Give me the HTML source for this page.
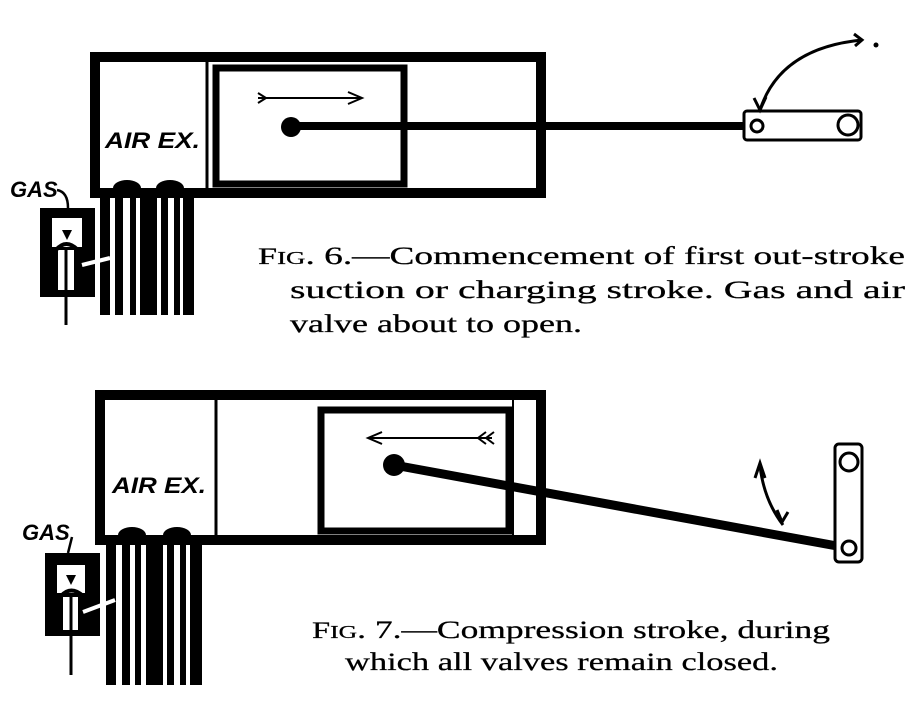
<!DOCTYPE html>
<html><head><meta charset="utf-8"><style>
html,body{margin:0;padding:0;background:#fff;width:908px;height:701px;overflow:hidden}
svg{display:block}
.cap{font-family:"Liberation Serif",serif;font-size:25px;fill:#000;stroke:#000;stroke-width:0.25}
.hand{font-family:"Liberation Sans",sans-serif;font-style:italic;font-weight:bold;font-size:22px;fill:#000}
</style></head><body>
<svg width="908" height="701" viewBox="0 0 908 701" xmlns="http://www.w3.org/2000/svg">
<!-- FIG 6 -->
<rect x="95" y="57" width="446" height="136" fill="none" stroke="#000" stroke-width="10"/>
<line x1="207" y1="57" x2="207" y2="193" stroke="#000" stroke-width="3"/>
<rect x="216" y="68" width="188" height="116" fill="none" stroke="#000" stroke-width="7"/>
<line x1="258" y1="98" x2="360" y2="98" stroke="#000" stroke-width="2"/>
<path d="M348 92 L362 98 L348 104" fill="none" stroke="#000" stroke-width="2"/>
<path d="M258 93 L266 98 L258 103" fill="none" stroke="#000" stroke-width="2"/>
<circle cx="291" cy="127" r="10" fill="#000"/>
<line x1="291" y1="126" x2="745" y2="126" stroke="#000" stroke-width="8"/>
<rect x="744" y="111" width="117" height="29" rx="3" fill="#fff" stroke="#000" stroke-width="3"/>
<circle cx="757" cy="126" r="6" fill="none" stroke="#000" stroke-width="3"/>
<circle cx="848" cy="125" r="10" fill="none" stroke="#000" stroke-width="3"/>
<path d="M760 110 Q780 48 862 40" fill="none" stroke="#000" stroke-width="3"/>
<path d="M854 34 L862 40 L855 46" fill="none" stroke="#000" stroke-width="3"/>
<circle cx="876" cy="45" r="2.5"/>
<path d="M754 98 L760 110 L766 97" fill="none" stroke="#000" stroke-width="3"/>
<text class="hand" x="105" y="148" textLength="95" lengthAdjust="spacingAndGlyphs">AIR EX.</text>
<!-- valves fig6 -->
<ellipse cx="127" cy="188" rx="14" ry="8"/>
<ellipse cx="170" cy="188" rx="14" ry="8"/>
<rect x="100" y="193" width="10" height="122"/>
<rect x="115" y="188" width="8" height="127"/>
<rect x="130" y="188" width="6" height="127"/>
<rect x="140" y="193" width="17" height="122"/>
<rect x="161" y="188" width="7" height="127"/>
<rect x="174" y="188" width="6" height="127"/>
<rect x="183" y="193" width="11" height="122"/>
<rect x="40" y="208" width="55" height="89"/>
<rect x="52" y="218" width="30" height="29" fill="#fff"/>
<rect x="58" y="250" width="16" height="40" fill="#fff"/>
<line x1="66" y1="248" x2="66" y2="325" stroke="#000" stroke-width="3"/>
<path d="M56 250 Q66 238 78 250" fill="none" stroke="#000" stroke-width="4"/>
<path d="M62 230 L67 240 L72 230 Z" fill="#000"/>
<line x1="82" y1="265" x2="110" y2="258" stroke="#fff" stroke-width="4"/>
<text class="hand" x="10" y="197" font-size="18">GAS</text>
<path d="M57 190 Q68 192 68 208" fill="none" stroke="#000" stroke-width="2.5"/>
<text class="cap" x="258" y="264" textLength="647" lengthAdjust="spacingAndGlyphs"><tspan font-size="23">F</tspan><tspan font-size="18">IG</tspan>. 6.—Commencement of first out-stroke</text>
<text class="cap" x="290" y="298" textLength="615" lengthAdjust="spacingAndGlyphs">suction or charging stroke.  Gas and air</text>
<text class="cap" x="290" y="332" textLength="292" lengthAdjust="spacingAndGlyphs">valve about to open.</text>
<!-- FIG 7 -->
<rect x="100" y="395" width="441" height="145" fill="none" stroke="#000" stroke-width="10"/>
<line x1="216" y1="395" x2="216" y2="540" stroke="#000" stroke-width="3"/>
<rect x="321" y="410" width="188" height="121" fill="none" stroke="#000" stroke-width="7"/>
<line x1="513" y1="400" x2="513" y2="535" stroke="#000" stroke-width="2"/>
<line x1="370" y1="438" x2="492" y2="438" stroke="#000" stroke-width="2"/>
<path d="M382 432 L368 438 L382 444" fill="none" stroke="#000" stroke-width="2"/>
<path d="M486 432 L478 438 L486 444 M494 432 L486 438 L494 444" fill="none" stroke="#000" stroke-width="2"/>
<circle cx="394" cy="465" r="11" fill="#000"/>
<line x1="394" y1="465" x2="848" y2="548" stroke="#000" stroke-width="9"/>
<rect x="835" y="444" width="27" height="118" rx="4" fill="#fff" stroke="#000" stroke-width="3"/>
<circle cx="849" cy="462" r="9" fill="none" stroke="#000" stroke-width="3"/>
<circle cx="849" cy="548" r="7" fill="none" stroke="#000" stroke-width="3"/>
<path d="M760 466 Q764 500 783 525" fill="none" stroke="#000" stroke-width="3"/>
<path d="M755 478 L760 463 L765 478" fill="none" stroke="#000" stroke-width="3"/>
<path d="M777 510 L782 522 L788 512" fill="none" stroke="#000" stroke-width="3"/>
<text class="hand" x="112" y="493" textLength="94" lengthAdjust="spacingAndGlyphs">AIR EX.</text>
<!-- valves fig7 -->
<ellipse cx="132" cy="535" rx="14" ry="8"/>
<ellipse cx="177" cy="535" rx="14" ry="8"/>
<rect x="106" y="540" width="10" height="145"/>
<rect x="122" y="535" width="8" height="150"/>
<rect x="135" y="535" width="6" height="150"/>
<rect x="146" y="540" width="17" height="145"/>
<rect x="167" y="535" width="7" height="150"/>
<rect x="180" y="535" width="6" height="150"/>
<rect x="190" y="540" width="12" height="145"/>
<rect x="45" y="553" width="55" height="83"/>
<rect x="57" y="565" width="28" height="28" fill="#fff"/>
<rect x="63" y="597" width="15" height="33" fill="#fff"/>
<line x1="71" y1="594" x2="71" y2="675" stroke="#000" stroke-width="3"/>
<path d="M61 596 Q71 585 83 596" fill="none" stroke="#000" stroke-width="4"/>
<path d="M66 575 L71 585 L76 575 Z" fill="#000"/>
<line x1="83" y1="612" x2="115" y2="600" stroke="#fff" stroke-width="4"/>
<text class="hand" x="22" y="540" font-size="18">GAS</text>
<line x1="72" y1="537" x2="68" y2="553" stroke="#000" stroke-width="2.5"/>
<text class="cap" x="312" y="638" textLength="518" lengthAdjust="spacingAndGlyphs"><tspan font-size="23">F</tspan><tspan font-size="18">IG</tspan>. 7.—Compression stroke, during</text>
<text class="cap" x="345" y="670" textLength="433" lengthAdjust="spacingAndGlyphs">which all valves remain closed.</text>
</svg>
</body></html>
